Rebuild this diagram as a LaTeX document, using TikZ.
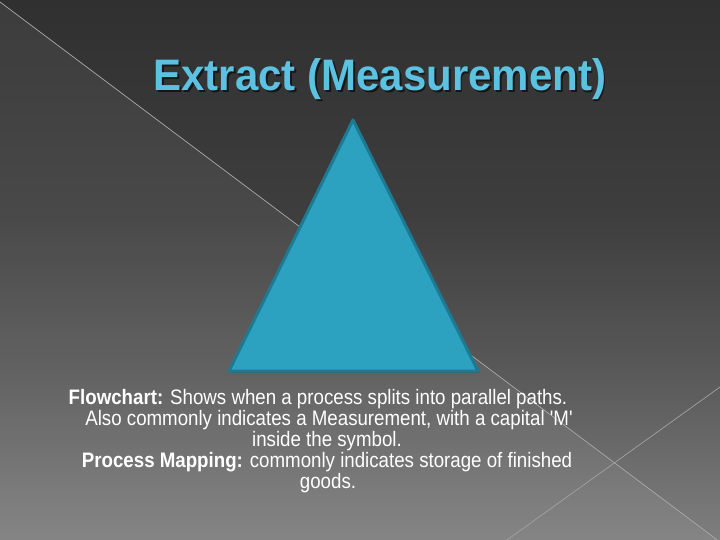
\documentclass[tikz,border=0pt]{standalone}
\usepackage{fontspec}
\setmainfont{Liberation Sans}[Ligatures=TeXOff]
\definecolor{bgtop}{HTML}{303030}
\definecolor{bgmid}{HTML}{3E3E3E}
\definecolor{bglow}{HTML}{5A5A5A}
\definecolor{bgbot}{HTML}{7E7E7E}
\definecolor{tri}{HTML}{2CA1C0}
\definecolor{triedge}{HTML}{1D7A93}
\definecolor{titlec}{HTML}{5CC2E2}
\definecolor{shadowc}{HTML}{161616}
\definecolor{linec}{HTML}{A8A8A8}
\pgfdeclareverticalshading{bgshade}{100bp}{color(0bp)=(bgbot); color(25bp)=(bgbot); color(40bp)=(bglow); color(55bp)=(bgmid); color(75bp)=(bgtop); color(100bp)=(bgtop)}
\newcommand{\tallline}[1]{\scalebox{1}[1.12]{#1}}
\tikzset{
  bodyline/.style={text=white, font=\fontsize{18.7}{21}\selectfont, inner sep=0pt, anchor=base},
  titletext/.style={font=\fontsize{42}{46}\selectfont\bfseries, inner sep=0pt, anchor=base},
  diag/.style={draw=linec, line width=0.7pt}
}
\begin{document}
\begin{tikzpicture}[x=1pt,y=-1pt]
\useasboundingbox (0,0) rectangle (720,540);
% background
\shade[shading=bgshade] (0,0) rectangle (720,540);
\fill[white, opacity=0.06] (0,2) -- (720,542) -- (0,540) -- cycle;
\coordinate (d1a) at (0,2);
\coordinate (d1b) at (720,542);
\coordinate (d2a) at (507,540);
\coordinate (d2b) at (720,387);
\draw[diag] (d1a) -- (d1b);
\draw[diag, draw=linec!85!gray] (d2a) -- (d2b);
% title with its shadow
\node[titletext, text=shadowc] (tshadow) at (381.5,92.5) {\scalebox{1}[1.05]{Extract (Measurement)}};
\node[titletext, text=titlec] (title) at (380,91) {\scalebox{1}[1.05]{Extract (Measurement)}};
% triangle
\coordinate (apex) at (353,120);
\coordinate (bl) at (229,371);
\coordinate (br) at (478,371);
\fill[black, opacity=0.25] ([shift={(1.5,1.5)}]apex) -- ([shift={(1.5,1.5)}]bl) -- ([shift={(1.5,1.5)}]br) -- cycle;
\draw[fill=tri, draw=triedge, line width=3pt, line join=round] (apex) -- (bl) -- (br) -- cycle;
% body text
\node[bodyline] (l1) at (318,404) {\tallline{\textbf{Flowchart:} Shows when a process splits into parallel paths.}};
\node[bodyline] (l2) at (329,425.5) {\tallline{Also commonly indicates a Measurement, with a capital 'M'}};
\node[bodyline] (l3) at (327,446.5) {\tallline{inside the symbol.}};
\node[bodyline] (l4) at (327,467) {\tallline{\textbf{Process Mapping:} commonly indicates storage of finished}};
\node[bodyline] (l5) at (328,488) {\tallline{goods.}};
\end{tikzpicture}
\end{document}
